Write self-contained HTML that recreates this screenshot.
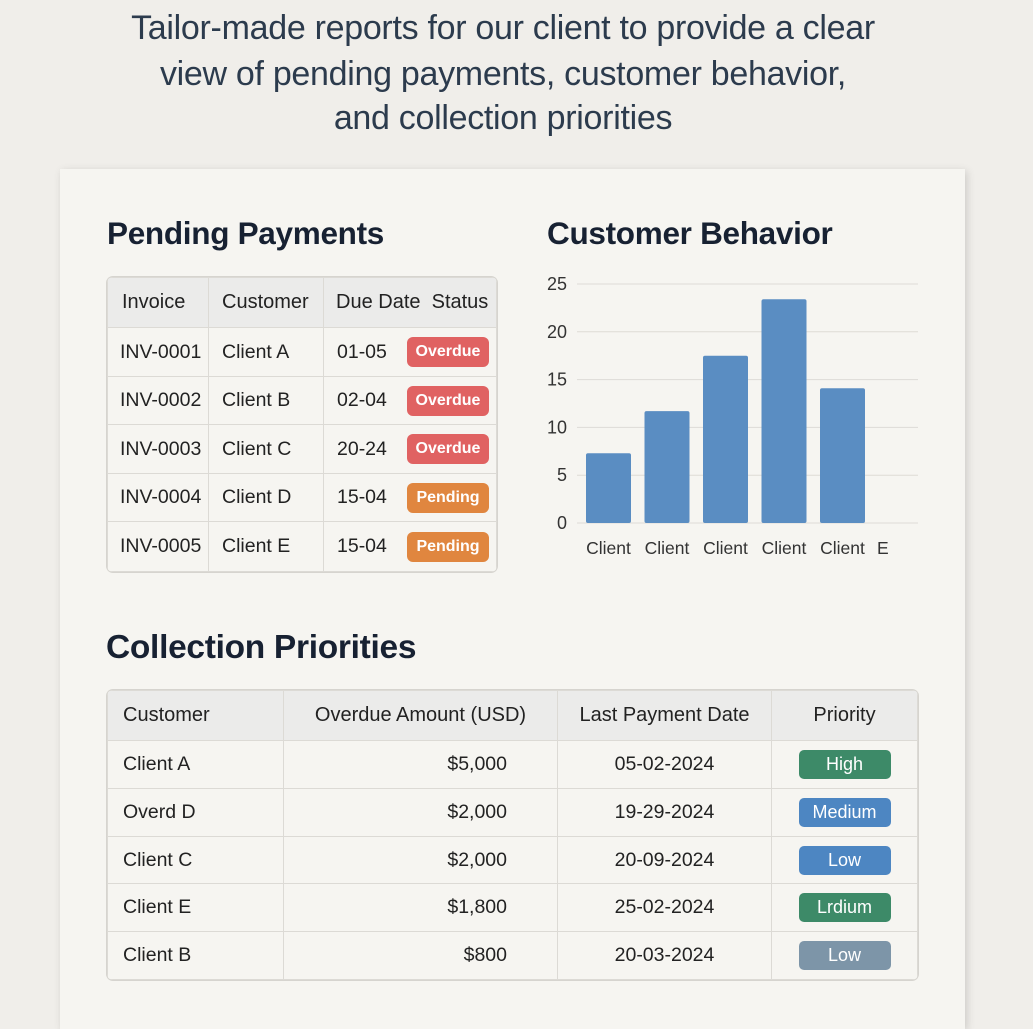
<!DOCTYPE html>
<html><head><meta charset="utf-8"><style>
*{margin:0;padding:0;box-sizing:border-box}
body{width:1033px;height:1004px;overflow:hidden;background:#f0eeea;font-family:"Liberation Sans",sans-serif;position:relative;color:#1f2633}
.abs{position:absolute}
.hl{position:absolute;left:0;width:1006px;text-align:center;font-size:34px;color:#2c3b4d;line-height:40px;letter-spacing:-0.3px}
.card{position:absolute;left:60px;top:169px;width:905px;height:860px;background:#f6f5f1;box-shadow:2px 2px 8px rgba(0,0,0,0.15)}
.h2{position:absolute;font-weight:bold;color:#172132;font-size:31.5px;letter-spacing:-0.3px}
table{position:absolute;border-collapse:collapse;font-size:19.5px;color:#222}
td,th{border:1px solid #dcdad5;font-weight:normal;padding:0;vertical-align:middle}
th{background:#ebebea;text-align:left;font-size:20px}
.tbl{border-radius:6px;overflow:hidden;box-shadow:0 0 0 1px #d6d4cf}
.b{display:inline-block;vertical-align:middle;color:#fff;font-weight:bold;font-size:16px;border-radius:6px;text-align:center}
.ov{background:#e06262;width:82px;height:30px;line-height:30px}
.pe{background:#e0863f;width:82px;height:30px;line-height:30px}
.p{display:inline-block;vertical-align:middle;color:#fff;font-size:18px;border-radius:5px;width:92px;height:29px;line-height:29px;text-align:center}
.dt{display:inline-block;vertical-align:middle;width:58px}
</style></head><body>
<div class="hl" style="top:8px">Tailor-made reports for our client to provide a clear</div>
<div class="hl" style="top:54px">view of pending payments, customer behavior,</div>
<div class="hl" style="top:98px">and collection priorities</div>
<div class="card"></div>
<div class="h2" style="left:107px;top:215px">Pending Payments</div>
<div class="h2" style="left:547px;top:215px">Customer Behavior</div>
<div class="h2" style="left:106px;top:629px;font-size:33.5px">Collection Priorities</div>

<table class="tbl" style="left:107px;top:277px;width:390px">
<tr style="height:50px"><th style="width:101px;padding-left:14px">Invoice</th><th style="width:115px;padding-left:13px">Customer</th><th style="padding-left:12px;white-space:nowrap">Due Date&nbsp;&nbsp;Status</th></tr>
<tr style="height:49px"><td style="padding-left:12px">INV-0001</td><td style="padding-left:13px">Client A</td><td style="padding-left:13px"><span class="dt">01-05</span><span class="b ov" style="margin-left:12px">Overdue</span></td></tr>
<tr style="height:48px"><td style="padding-left:12px">INV-0002</td><td style="padding-left:13px">Client B</td><td style="padding-left:13px"><span class="dt">02-04</span><span class="b ov" style="margin-left:12px">Overdue</span></td></tr>
<tr style="height:49px"><td style="padding-left:12px">INV-0003</td><td style="padding-left:13px">Client C</td><td style="padding-left:13px"><span class="dt">20-24</span><span class="b ov" style="margin-left:12px">Overdue</span></td></tr>
<tr style="height:48px"><td style="padding-left:12px">INV-0004</td><td style="padding-left:13px">Client D</td><td style="padding-left:13px"><span class="dt">15-04</span><span class="b pe" style="margin-left:12px">Pending</span></td></tr>
<tr style="height:50px"><td style="padding-left:12px">INV-0005</td><td style="padding-left:13px">Client E</td><td style="padding-left:13px"><span class="dt">15-04</span><span class="b pe" style="margin-left:12px">Pending</span></td></tr>
</table>

<svg class="abs" style="left:0;top:0" width="1033" height="1004" id="chart"></svg>

<table class="tbl" style="left:107px;top:690px;width:811px">
<tr style="height:50px"><th style="width:176px;padding-left:15px">Customer</th><th style="width:274px;text-align:center">Overdue Amount (USD)</th><th style="width:214px;text-align:center">Last Payment Date</th><th style="text-align:center">Priority</th></tr>
<tr style="height:48px"><td style="padding-left:15px">Client A</td><td style="text-align:right;padding-right:50px">$5,000</td><td style="text-align:center">05-02-2024</td><td style="text-align:center"><span class="p" style="background:#3d8a68">High</span></td></tr>
<tr style="height:48px"><td style="padding-left:15px">Overd D</td><td style="text-align:right;padding-right:50px">$2,000</td><td style="text-align:center">19-29-2024</td><td style="text-align:center"><span class="p" style="background:#4d86c2">Medium</span></td></tr>
<tr style="height:47px"><td style="padding-left:15px">Client C</td><td style="text-align:right;padding-right:50px">$2,000</td><td style="text-align:center">20-09-2024</td><td style="text-align:center"><span class="p" style="background:#4d86c2">Low</span></td></tr>
<tr style="height:48px"><td style="padding-left:15px">Client E</td><td style="text-align:right;padding-right:50px">$1,800</td><td style="text-align:center">25-02-2024</td><td style="text-align:center"><span class="p" style="background:#3d8a68">Lrdium</span></td></tr>
<tr style="height:48px"><td style="padding-left:15px">Client B</td><td style="text-align:right;padding-right:50px">$800</td><td style="text-align:center">20-03-2024</td><td style="text-align:center"><span class="p" style="background:#7d95a8">Low</span></td></tr>
</table>

<script>
const categories = ["Client","Client","Client","Client","Client"];
const values = [7.3, 11.7, 17.5, 23.4, 14.1];
const yTicks = [0,5,10,15,20,25];
const svg = document.getElementById('chart');
const NS = 'http://www.w3.org/2000/svg';
const x0 = 577, x1 = 918, yBase = 523, yTop = 284, yMax = 25;
const y = v => yBase - (yBase - yTop) * v / yMax;
const step = 58.5, bw = 45, firstX = 586;
const xb = i => firstX + i * step;
yTicks.forEach(t => {
  const l = document.createElementNS(NS,'line');
  
  
  l.setAttribute('x1',x0); l.setAttribute('x2',x1);
  l.setAttribute('y1',y(t)); l.setAttribute('y2',y(t));
  l.setAttribute('stroke','#dddbd6'); l.setAttribute('stroke-width','1');
  svg.appendChild(l);
  const tx = document.createElementNS(NS,'text');
  
  
  tx.setAttribute('x',567); tx.setAttribute('y',y(t)+6);
  tx.setAttribute('text-anchor','end'); tx.setAttribute('font-size','18');
  tx.setAttribute('fill','#333'); tx.setAttribute('font-family','Liberation Sans, sans-serif');
  tx.textContent = t;
  svg.appendChild(tx);
});
values.forEach((v,i) => {
  const r = document.createElementNS(NS,'rect');
  
  
  r.setAttribute('x',xb(i)); r.setAttribute('y',y(v));
  r.setAttribute('width',bw); r.setAttribute('height',yBase - y(v));
  r.setAttribute('rx','2'); r.setAttribute('fill','#5a8dc2');
  svg.appendChild(r);
  const tx = document.createElementNS(NS,'text');
  
  
  tx.setAttribute('x',xb(i)+bw/2); tx.setAttribute('y',554);
  tx.setAttribute('text-anchor','middle'); tx.setAttribute('font-size','17.5');
  tx.setAttribute('fill','#333'); tx.setAttribute('font-family','Liberation Sans, sans-serif');
  tx.textContent = categories[i];
  svg.appendChild(tx);
});
const e = document.createElementNS(NS,'text');


e.setAttribute('x',877); e.setAttribute('y',554); e.setAttribute('font-size','17.5');
e.setAttribute('fill','#333'); e.setAttribute('font-family','Liberation Sans, sans-serif');
e.textContent = 'E';
svg.appendChild(e);
</script>
</body></html>
